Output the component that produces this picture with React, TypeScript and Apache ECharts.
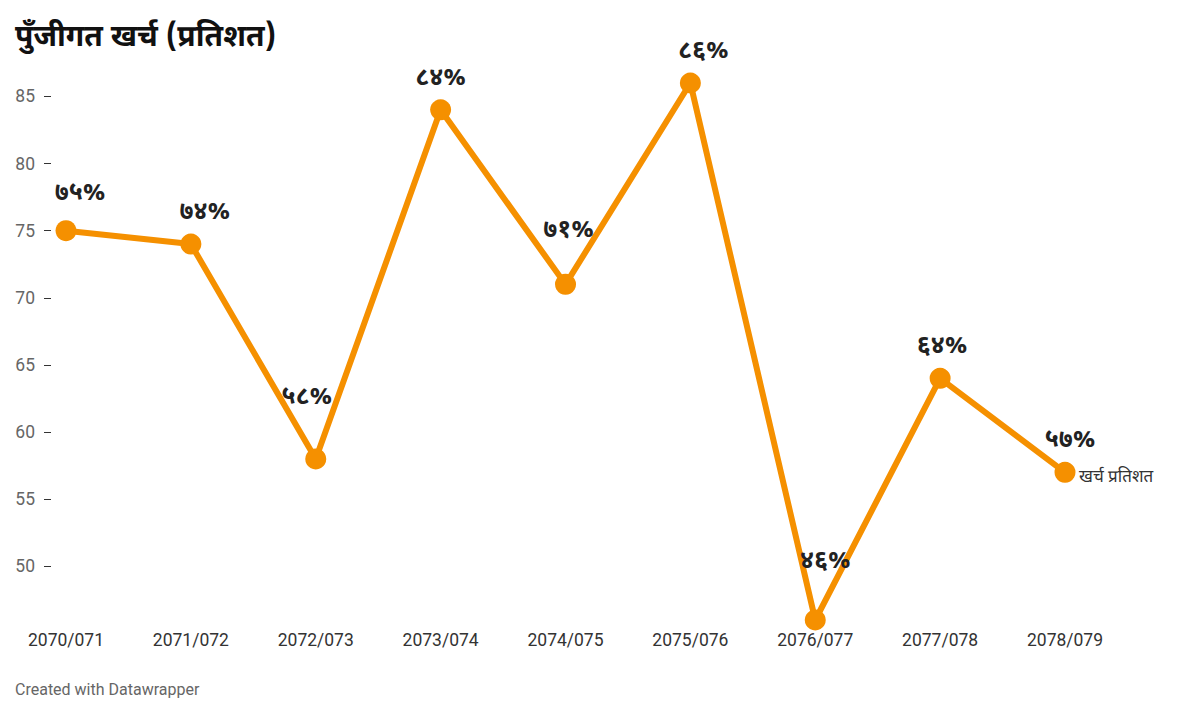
import React, { useEffect, useRef } from "react";
import * as echarts from "echarts";

const categories = ["2070/071", "2071/072", "2072/073", "2073/074", "2074/075", "2075/076", "2076/077", "2077/078", "2078/079"];
const values = [75, 74, 58, 84, 71, 86, 46, 64, 57];
const yTicks = [50, 55, 60, 65, 70, 75, 80, 85];
const labelOffsets = [[14, -6], [14, 0], [-9, -30], [0, 0], [3, -22], [13, 0], [10, -27], [2, 0], [5, 0]];

const devDigits = "०१२३४५६७८९";
const toDev = (n: number) => String(n).replace(/[0-9]/g, (d) => devDigits[Number(d)]);

const DEV_FONT = '"Noto Sans Devanagari", "Noto Sans", Roboto, sans-serif';
const ORANGE = "#f59000";

export default function App() {
  const ref = useRef<HTMLDivElement>(null);
  useEffect(() => {
    if (!ref.current) return;
    const chart = echarts.init(ref.current, null, { renderer: "svg" });
    chart.setOption({
      animation: false,
      backgroundColor: "#ffffff",
      title: {
        text: "पुँजीगत खर्च (प्रतिशत)",
        left: 10,
        top: 18,
        textStyle: { fontFamily: DEV_FONT, fontSize: 30, fontWeight: "bold", color: "#111" },
      },
      graphic: [
        {
          type: "text",
          left: 15,
          top: 681,
          style: { text: "Created with Datawrapper", font: "16px Roboto, sans-serif", fill: "#666" },
        },
      ],
      grid: { left: 66, right: 135, top: 83, bottom: 715 - 620 },
      xAxis: {
        type: "category",
        data: categories,
        boundaryGap: false,
        axisLine: { show: false },
        axisTick: { show: false },
        axisLabel: { margin: 11, fontFamily: "Roboto", fontSize: 17.5, color: "#333" },
        splitLine: { show: false },
      },
      yAxis: {
        type: "value",
        min: 46,
        max: 86,
        offset: 15,
        axisLine: { show: false },
        axisTick: { show: true, length: 7, customValues: yTicks, lineStyle: { color: "#333", width: 1 } },
        axisLabel: { margin: 16, customValues: yTicks, fontFamily: "Roboto", fontSize: 17.5, color: "#666" },
        splitLine: { show: false },
      },
      series: [
        {
          type: "line",
          data: values.map((v, i) => ({
            value: v,
            label: { offset: labelOffsets[i] },
          })),
          symbol: "circle",
          symbolSize: 21,
          lineStyle: { color: ORANGE, width: 6 },
          itemStyle: { color: ORANGE },
          label: {
            show: true,
            position: "top",
            distance: 8,
            formatter: (p: any) => toDev(p.value) + "%",
            fontFamily: DEV_FONT,
            fontSize: 25,
            fontWeight: "bold",
            color: "#222",
          },
          endLabel: {
            show: true,
            formatter: "खर्च प्रतिशत",
            fontFamily: DEV_FONT,
            fontSize: 17,
            color: "#333",
            distance: 14,
            offset: [0, 6],
          },
        },
      ],
    });
    return () => chart.dispose();
  }, []);
  return <div ref={ref} style={{ position: "fixed", left: 0, top: 0, width: 1200, height: 715 }} />;
}
